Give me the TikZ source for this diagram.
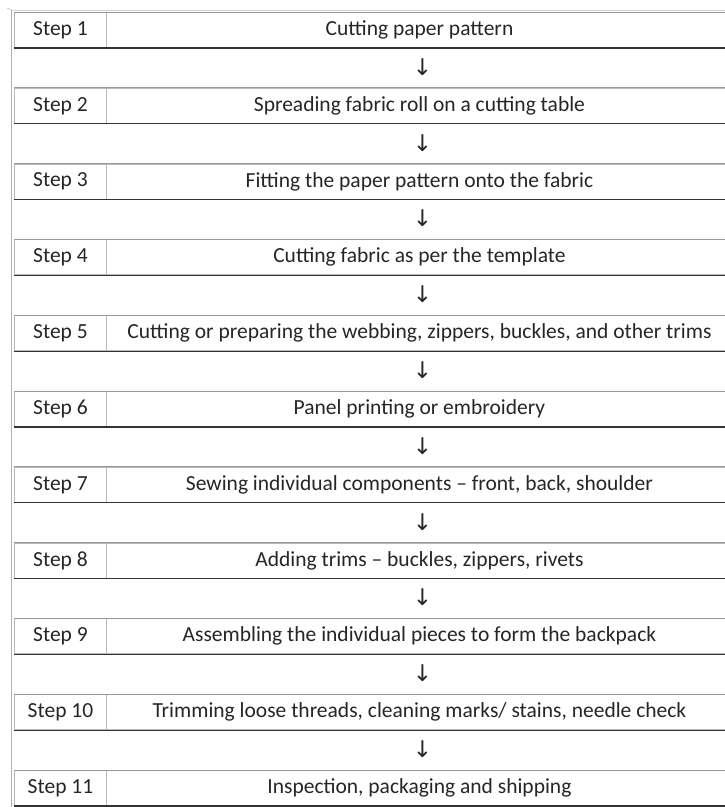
\documentclass[tikz,border=0pt]{standalone}
\usepackage{fontspec}
\setmainfont{Carlito}
\newfontfamily\arrowfont{DejaVu Sans}
\begin{document}
\begin{tikzpicture}[x=1pt,y=-1pt,
  cellbox/.style={draw=gray!55, line width=0.9pt, anchor=north west, minimum height=35pt, inner sep=0pt, font=\fontsize{21.5}{24}\selectfont, text=black!85},
  stepcell/.style={cellbox, minimum width=92pt},
  textcell/.style={cellbox, minimum width=626pt},
  arrowmark/.style={font=\arrowfont\fontsize{23}{25}\selectfont, text=black!85, inner sep=0pt}]
\useasboundingbox (0,0) rectangle (724,807);
\fill[white] (0,0) rectangle (724,807);
% outer table frame
\draw[gray!60, line width=1.4pt] (11.5,10) -- (11.5,807);
\draw[gray!35, line width=1pt] (11.5,10) -- (730,10);
\draw[gray!50, line width=0.6pt] (7,8) -- (11.5,10);
\foreach \k/\txt [count=\i] in {
  1/Cutting paper pattern,
  2/Spreading fabric roll on a cutting table,
  3/Fitting the paper pattern onto the fabric,
  4/Cutting fabric as per the template,
  5/{Cutting or preparing the webbing, zippers, buckles, and other trims},
  6/Panel printing or embroidery,
  7/{Sewing individual components – front, back, shoulder},
  8/{Adding trims – buckles, zippers, rivets},
  9/Assembling the individual pieces to form the backpack,
  10/{Trimming loose threads, cleaning marks/ stains, needle check},
  11/{Inspection, packaging and shipping}} {
  \pgfmathsetmacro{\ytop}{12+75.8*(\k-1)}
  \node[stepcell] (s\k) at (14,\ytop) {Step \k};
  \node[textcell] (t\k) at (106,\ytop) {\txt};
  \draw[black!80, line width=1.2pt] (s\k.south west) -- (t\k.south east);
  \draw[gray!80, line width=0.8pt] (s\k.north west) -- (t\k.north east);
}
\foreach \k [evaluate=\k as \kn using int(\k+1)] in {1,...,10} {
  \path (t\k.south) -- (t\kn.north) node[midway, arrowmark, xshift=3pt, yshift=1pt] (a\k) {↓};
}
\end{tikzpicture}
\end{document}
